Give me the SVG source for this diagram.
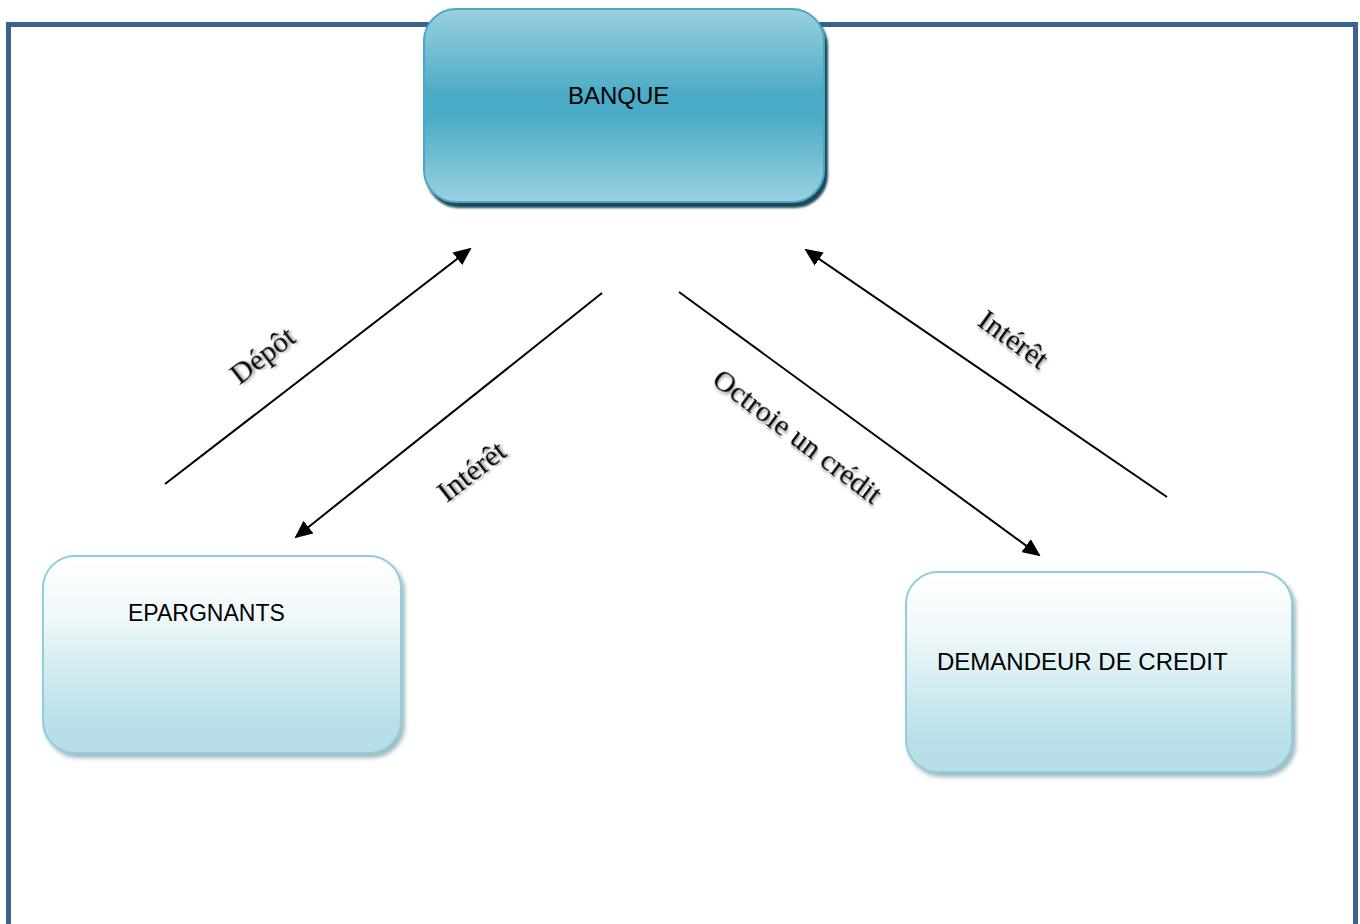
<svg xmlns="http://www.w3.org/2000/svg" width="1360" height="924" viewBox="0 0 1360 924">
<style>
.box-text{font-family:"Liberation Sans",Arial,sans-serif;fill:#000}
.lbl{font-family:"Liberation Serif","Times New Roman",serif;font-size:30px;fill:#000;text-anchor:middle;filter:url(#tshadow)}
.conn{stroke:#000;stroke-width:2;fill:none;marker-end:url(#arrow)}
</style>
<defs>
<linearGradient id="gBank" x1="0" y1="0" x2="0" y2="1">
<stop offset="0" stop-color="#9ad0df"/>
<stop offset="0.45" stop-color="#4aabc5"/>
<stop offset="0.55" stop-color="#4aabc5"/>
<stop offset="1" stop-color="#9ad0df"/>
</linearGradient>
<linearGradient id="gLight" x1="0" y1="0" x2="0" y2="1">
<stop offset="0" stop-color="#ffffff"/>
<stop offset="0.3" stop-color="#f0f8fa"/>
<stop offset="0.85" stop-color="#b9dfe8"/>
<stop offset="1" stop-color="#b7dde7"/>
</linearGradient>
<filter id="shadowDark" x="-10%" y="-10%" width="120%" height="130%">
<feGaussianBlur in="SourceAlpha" stdDeviation="1.2"/>
<feOffset dx="3" dy="5" result="b"/>
<feFlood flood-color="#1c4a5a" flood-opacity="1"/>
<feComposite in2="b" operator="in"/>
<feMerge><feMergeNode/><feMergeNode in="SourceGraphic"/></feMerge>
</filter>
<filter id="shadowLight" x="-10%" y="-10%" width="120%" height="130%">
<feGaussianBlur in="SourceAlpha" stdDeviation="2"/>
<feOffset dx="3" dy="4" result="b"/>
<feFlood flood-color="#5f8a98" flood-opacity="0.6"/>
<feComposite in2="b" operator="in"/>
<feMerge><feMergeNode/><feMergeNode in="SourceGraphic"/></feMerge>
</filter>
<filter id="tshadow" x="-20%" y="-30%" width="140%" height="160%">
<feGaussianBlur in="SourceAlpha" stdDeviation="1.2"/>
<feOffset dx="1.5" dy="2" result="b"/>
<feFlood flood-color="#000" flood-opacity="0.35"/>
<feComposite in2="b" operator="in"/>
<feMerge><feMergeNode/><feMergeNode in="SourceGraphic"/></feMerge>
</filter>
<marker id="arrow" markerWidth="9" markerHeight="8" refX="8" refY="4" orient="auto" markerUnits="strokeWidth">
<path d="M0,0 L9,4 L0,8 Z" fill="#000"/>
</marker>
</defs>
<rect width="1360" height="924" fill="#fff"/>
<g id="frame">
<path d="M8.5,930 L8.5,24.5 L1355.5,24.5 L1355.5,930" fill="none" stroke="#3b6191" stroke-width="5"/>
</g>
<g id="banque">
<rect x="424" y="9" width="400" height="193" rx="32" ry="32" fill="url(#gBank)" stroke="#4aa9c4" stroke-width="2" filter="url(#shadowDark)"/>
<text class="box-text" x="568" y="104" font-size="24">BANQUE</text>
</g>
<g id="epargnants">
<rect x="43" y="556" width="358" height="197" rx="32" ry="32" fill="url(#gLight)" stroke="#92cddc" stroke-width="2" filter="url(#shadowLight)"/>
<text class="box-text" x="128" y="621" font-size="23">EPARGNANTS</text>
</g>
<g id="demandeur">
<rect x="906" y="572" width="386" height="200" rx="32" ry="32" fill="url(#gLight)" stroke="#92cddc" stroke-width="2" filter="url(#shadowLight)"/>
<text class="box-text" x="937" y="670" font-size="24">DEMANDEUR DE CREDIT</text>
</g>
<g id="connectors">
<line class="conn" x1="165" y1="484" x2="470" y2="249"/>
<line class="conn" x1="602" y1="293" x2="296" y2="537"/>
<line class="conn" x1="679" y1="292" x2="1039" y2="555"/>
<line class="conn" x1="1167" y1="497" x2="806" y2="250"/>
</g>
<g id="labels">
<text class="lbl" transform="translate(263,356) rotate(-37.5)" y="9">Dépôt</text>
<text class="lbl" transform="translate(472,472) rotate(-38)" y="9">Intérêt</text>
<text class="lbl" transform="translate(797,437) rotate(37)" y="9">Octroie un crédit</text>
<text class="lbl" transform="translate(1013,340) rotate(36)" y="9">Intérêt</text>
</g>
</svg>
